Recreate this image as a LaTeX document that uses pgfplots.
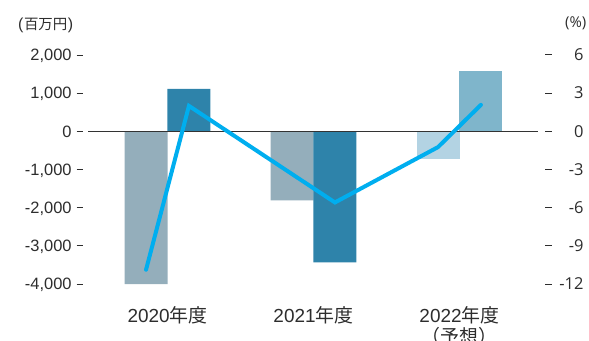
\documentclass[border=0pt]{standalone}
\usepackage{pgfplots}
\pgfplotsset{compat=1.18}
\usepackage{fontspec}
\setmainfont{Liberation Sans}
\newfontfamily\cjk{Noto Sans CJK JP}
\newfontfamily\rfont{Open Sans}
\definecolor{cA}{RGB}{148,174,187}
\definecolor{cB}{RGB}{46,131,170}
\definecolor{cC}{RGB}{179,211,227}
\definecolor{cD}{RGB}{127,181,203}
\definecolor{cL}{RGB}{0,174,239}
\definecolor{tx}{RGB}{45,45,45}
\newcommand{\ld}{\hspace{5bp}\rule[5.3bp]{6.5bp}{1bp}}
\newcommand{\rl}[1]{\rule[5.3bp]{6.5bp}{1bp}\makebox[31.8bp][r]{\rfont #1}}
\begin{document}
\begin{tikzpicture}[x=1bp,y=1bp]
\useasboundingbox (0,0) rectangle (589,340);
\begin{axis}[
  at={(88bp,56bp)}, anchor=south west, scale only axis,
  width=450bp, height=229bp,
  xmin=-0.5445, xmax=2.538, ymin=-4000, ymax=2000,
  axis line style={draw=none}, major tick length=0pt,
  clip=false,
  ytick={-4000,-3000,-2000,-1000,0,1000,2000},
  yticklabels={{-4,000\ld},{-3,000\ld},{-2,000\ld},{-1,000\ld},{0\ld},{1,000\ld},{2,000\ld}},
  yticklabel style={anchor=base east, inner sep=0pt, xshift=-4.7bp, yshift=-5.8bp, font=\fontsize{16.5}{18}\selectfont, text=tx},
  xtick={0,1,2},
  xticklabels={2020{\cjk 年度},2021{\cjk 年度},{\begin{tabular}[t]{@{}c@{}}2022{\cjk 年度}\\[-2bp]{\cjk （予想）}\end{tabular}}},
  xticklabel style={anchor=base, inner sep=0pt, yshift=-38.7bp, font=\fontsize{19}{21}\selectfont, text=tx},
  bar width=0.2945,
]
\addplot[ybar, bar shift=0pt, fill=cA, draw=none] coordinates {(-0.147,-4000) (0.853,-1810)};
\addplot[ybar, bar shift=0pt, fill=cB, draw=none] coordinates {(0.147,1110) (1.147,-3435)};
\addplot[ybar, bar shift=0pt, fill=cC, draw=none] coordinates {(1.853,-712)};
\addplot[ybar, bar shift=0pt, fill=cD, draw=none] coordinates {(2.147,1584)};
\draw[color=black!80, line width=1.4bp] (axis cs:-0.5445,0) -- (axis cs:2.538,0);
\end{axis}
\begin{axis}[
  at={(88bp,56bp)}, anchor=south west, scale only axis,
  width=450bp, height=229bp,
  xmin=-0.5445, xmax=2.538, ymin=-12, ymax=6,
  axis line style={draw=none}, major tick length=0pt,
  clip=false, xtick=\empty,
  ytick={-12,-9,-6,-3,0,3,6},
  yticklabels={\rl{-12},\rl{-9},\rl{-6},\rl{-3},\rl{0},\rl{3},\rl{6}},
  yticklabel pos=right,
  yticklabel style={anchor=base west, inner sep=0pt, xshift=7bp, yshift=-5.8bp, font=\fontsize{16.5}{18}\selectfont, text=tx},
]
\addplot[color=cL, line width=4bp, line cap=round, line join=miter] coordinates {(-0.147,-10.88) (0.147,2.0) (1.147,-5.59) (1.853,-1.24) (2.147,2.08)};
\end{axis}
\node[anchor=west, inner sep=0pt, text=tx] at (18,315) {\fontsize{16}{18}\selectfont (\hspace{0.5bp}{\cjk\fontsize{14.5}{16}\selectfont 百万円}\hspace{0.5bp})};
\node[anchor=west, inner sep=0pt, text=tx] at (565,317) {\rfont\fontsize{15}{17}\selectfont (\%)};
\end{tikzpicture}
\end{document}
